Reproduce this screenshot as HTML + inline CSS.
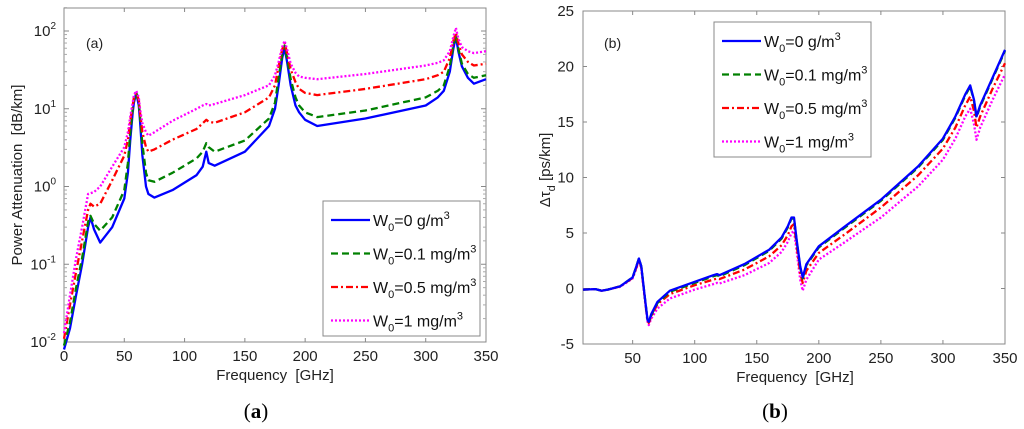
<!DOCTYPE html>
<html><head><meta charset="utf-8"><style>
body{margin:0;background:#fff;}
svg{display:block;font-family:"Liberation Sans",sans-serif;}
</style></head><body>
<svg id="fig" width="1024" height="429" viewBox="0 0 1024 429"></svg>
<script>
// ---- Chart (a) data ----
const freqA=[0,5,10,15,20,22,25,30,40,50,53,55,57,58,60,62,63,65,68,70,75,90,110,115,118,120,125,150,170,175,178,181,183,185,188,192,195,200,210,250,300,310,315,320,323,325,327,330,335,340,350];
const attW0=[0.008,0.015,0.04,0.1,0.3,0.4,0.28,0.19,0.3,0.7,1.5,4,9,12,16,11,7,2.5,1.0,0.8,0.72,0.9,1.4,1.8,2.8,2.0,1.85,2.8,6,10,20,45,60,40,20,11,9,7.2,6,7.5,11,14,17,30,60,85,55,35,25,21,24];
const attW01=[0.009,0.018,0.05,0.12,0.35,0.42,0.33,0.27,0.4,0.9,2,5,10,13,16,12,8,3.5,1.5,1.2,1.15,1.5,2.3,2.8,3.6,3.2,2.8,3.9,7.5,12,25,50,65,45,24,14,11,9,7.8,9.5,14,17,20,35,65,90,60,38,28,25,27];
const attW05=[0.011,0.03,0.08,0.2,0.5,0.6,0.55,0.6,1.2,2.5,4,7,11,14,16,13,9,5,3.2,2.8,3,4,5.5,6.5,7.2,6.8,6.6,9,14,20,35,58,70,52,32,22,18,16,15,18,24,27,30,45,75,95,70,50,40,36,38];
const attW1=[0.013,0.04,0.12,0.3,0.8,0.82,0.85,1.0,1.8,3.2,5,8,12,15,17,14,10,6.5,5,4.5,5,7,10,11,11.5,11,11.5,15,20,27,40,62,75,58,38,29,26,25,24,28,36,39,42,55,85,110,80,62,55,52,55];
const xTicksA=[0,50,100,150,200,250,300,350];
const yExpA=[-2,-1,0,1,2];
// ---- Chart (b) data ----
const freqB=[10,20,25,30,40,50,53,55,57,60,62,63,65,70,80,100,115,118,120,140,160,170,175,178,180,182,185,187,190,200,220,250,280,300,310,318,322,325,327,330,340,350];
const tauW0=[-0.1,-0.05,-0.2,-0.1,0.2,1.0,2.0,2.7,2.0,-1,-2.8,-3.0,-2.3,-1.2,-0.2,0.6,1.2,1.3,1.2,2.2,3.5,4.6,5.6,6.4,6.4,4.5,2,1.0,2.2,3.8,5.5,8,11,13.5,15.5,17.5,18.3,17,15.5,16.5,19,21.5];
const tauW01=[-0.1,-0.05,-0.2,-0.1,0.2,1.0,2.0,2.7,2.0,-1,-2.8,-3.0,-2.4,-1.3,-0.3,0.5,1.1,1.2,1.1,2.1,3.4,4.5,5.5,6.3,6.3,4.4,1.9,0.9,2.1,3.7,5.4,7.9,10.9,13.4,15.4,17.4,18.2,16.9,15.4,16.4,18.9,21.4];
const tauW05=[-0.1,-0.05,-0.2,-0.1,0.2,0.95,1.9,2.6,1.9,-1.1,-2.9,-3.1,-2.5,-1.4,-0.5,0.3,0.8,0.9,0.85,1.7,2.9,3.9,4.8,5.6,5.8,4.0,1.4,0.5,1.6,3.2,4.8,7.3,10.2,12.6,14.5,16.5,17.3,16,14.5,15.5,18,20.3];
const tauW1=[-0.1,-0.05,-0.2,-0.1,0.15,0.9,1.8,2.5,1.8,-1.2,-3,-3.3,-2.7,-1.8,-0.9,-0.1,0.4,0.5,0.45,1.2,2.3,3.3,4.2,5,5.2,3.5,0.8,-0.2,0.8,2.6,4.1,6.4,9.2,11.6,13.5,15.5,16.2,14.8,13.4,14.5,17,19.3];
const xTicksB=[50,100,150,200,250,300,350];
const yTicksB=[-5,0,5,10,15,20,25];

const NS="http://www.w3.org/2000/svg";
const svg=document.getElementById('fig');
function mk(tag,attrs,parent){const e=document.createElementNS(NS,tag);for(const k in attrs)e.setAttribute(k,attrs[k]);(parent||svg).appendChild(e);return e;}
const styles=[
 {c:'#0000ff',d:''},
 {c:'#008000',d:'7 4'},
 {c:'#ff0000',d:'7 3 2 3'},
 {c:'#ff00ff',d:'2 2'}];
const labels=['=0 g/m','=0.1 mg/m','=0.5 mg/m','=1 mg/m'];

const A={x0:64,x1:486,y0:8,y1:342};
const xA=v=>A.x0+(v-0)/350*(A.x1-A.x0);
const yA=v=>342-(Math.log10(v)+2)*77.75;
const B={x0:583,x1:1005,y0:11,y1:344};
const xB=v=>B.x0+(v-10)/340*(B.x1-B.x0);
const yB=v=>B.y1-(v+5)/30*(B.y1-B.y0);

function frame(P,name){
  const r=mk('rect',{x:P.x0,y:P.y0,width:P.x1-P.x0,height:P.y1-P.y0,fill:'#fff',stroke:'#888','stroke-width':1});
  
  
}
frame(A,'plot-area-a');frame(B,'plot-area-b');

xTicksA.forEach(v=>{const x=xA(v);
  mk('line',{x1:x,y1:A.y1,x2:x,y2:A.y1-4,stroke:'#888'});mk('line',{x1:x,y1:A.y0,x2:x,y2:A.y0+4,stroke:'#888'});
  const t=mk('text',{x:x,y:A.y1+19,'font-size':15,'text-anchor':'middle',fill:'#222'});t.textContent=v;
  
  
});
yExpA.forEach(e=>{const y=yA(Math.pow(10,e));
  mk('line',{x1:A.x0,y1:y,x2:A.x0+5,y2:y,stroke:'#888'});mk('line',{x1:A.x1,y1:y,x2:A.x1-5,y2:y,stroke:'#888'});
  for(let m=2;m<10&&e<2;m++){const ym=yA(m*Math.pow(10,e));mk('line',{x1:A.x0,y1:ym,x2:A.x0+3,y2:ym,stroke:'#aaa'});mk('line',{x1:A.x1,y1:ym,x2:A.x1-3,y2:ym,stroke:'#aaa'});}
  const t=mk('text',{x:A.x0-8,y:y+5,'font-size':15,'text-anchor':'end',fill:'#222'});
  t.innerHTML='10<tspan dy="-7" font-size="10">'+e+'</tspan>';
  
  
});
{const ym=yA(200);mk('line',{x1:A.x0,y1:ym,x2:A.x0+3,y2:ym,stroke:'#aaa'});}
xTicksB.forEach(v=>{const x=xB(v);
  mk('line',{x1:x,y1:B.y1,x2:x,y2:B.y1-4,stroke:'#888'});mk('line',{x1:x,y1:B.y0,x2:x,y2:B.y0+4,stroke:'#888'});
  const t=mk('text',{x:x,y:B.y1+19,'font-size':15,'text-anchor':'middle',fill:'#222'});t.textContent=v;
  
  
});
yTicksB.forEach(v=>{const y=yB(v);
  mk('line',{x1:B.x0,y1:y,x2:B.x0+4,y2:y,stroke:'#888'});mk('line',{x1:B.x1,y1:y,x2:B.x1-4,y2:y,stroke:'#888'});
  const t=mk('text',{x:B.x0-9,y:y+5,'font-size':15,'text-anchor':'end',fill:'#222'});t.textContent=v;
  
  
});

function series(xs,ys,fx,fy,s,name){
  const pts=xs.map((v,i)=>fx(v).toFixed(1)+','+fy(ys[i]).toFixed(1)).join(' ');
  const p=mk('polyline',{points:pts,fill:'none',stroke:s.c,'stroke-width':2.3,'stroke-dasharray':s.d,'stroke-linejoin':'round'});
  
  
}
[attW0,attW01,attW05,attW1].forEach((ys,i)=>series(freqA,ys,xA,yA,styles[i],'attenuation-series-'+i));
[tauW1,tauW05,tauW01,tauW0].forEach((ys,k)=>{const i=3-k;series(freqB,ys,xB,yB,styles[i],'delay-series-'+i);});

function legend(x,y,w,h,name){
  const g=mk('g',{});
  
  
  mk('rect',{x:x,y:y,width:w,height:h,fill:'#fff',stroke:'#888'},g);
  for(let i=0;i<4;i++){const yy=y+19+i*33.5;
    mk('line',{x1:x+8,y1:yy,x2:x+47,y2:yy,stroke:styles[i].c,'stroke-width':2.3,'stroke-dasharray':styles[i].d},g);
    const t=mk('text',{x:x+50,y:yy+6,'font-size':16,fill:'#111'},g);
    t.innerHTML='W<tspan dy="5" font-size="11">0</tspan><tspan dy="-5">'+labels[i]+'</tspan><tspan dy="-7" font-size="11">3</tspan>';
  }
}
legend(323,201,157,135,'legend-a');
legend(714,22,157,135,'legend-b');

function txt(x,y,s,attrs,name){const t=mk('text',Object.assign({x:x,y:y,fill:'#222'},attrs));t.innerHTML=s;
  
  return t;}
txt(86,48,'(a)',{'font-size':14},'panel-label-a');
txt(604,48,'(b)',{'font-size':14},'panel-label-b');
txt(275,380,'Frequency&#160;&#160;[GHz]',{'font-size':15,'text-anchor':'middle'},'x-axis-title-a');
txt(795,382,'Frequency&#160;&#160;[GHz]',{'font-size':15,'text-anchor':'middle'},'x-axis-title-b');
txt(0,0,'Power Attenuation&#160;&#160;[dB/km]',{'font-size':15,'text-anchor':'middle',transform:'translate(22,175) rotate(-90)'},'y-axis-title-a');
txt(0,0,'Δτ<tspan dy="5" font-size="11">d</tspan><tspan dy="-5"> [ps/km]</tspan>',{'font-size':15,'text-anchor':'middle',transform:'translate(550,170) rotate(-90)'},'y-axis-title-b');
txt(256,418,'(<tspan font-weight="bold">a</tspan>)',{'font-size':21,'text-anchor':'middle','font-family':'Liberation Serif,serif',fill:'#000'},'caption-a');
txt(775,418,'(<tspan font-weight="bold">b</tspan>)',{'font-size':21,'text-anchor':'middle','font-family':'Liberation Serif,serif',fill:'#000'},'caption-b');
</script>
</body></html>
